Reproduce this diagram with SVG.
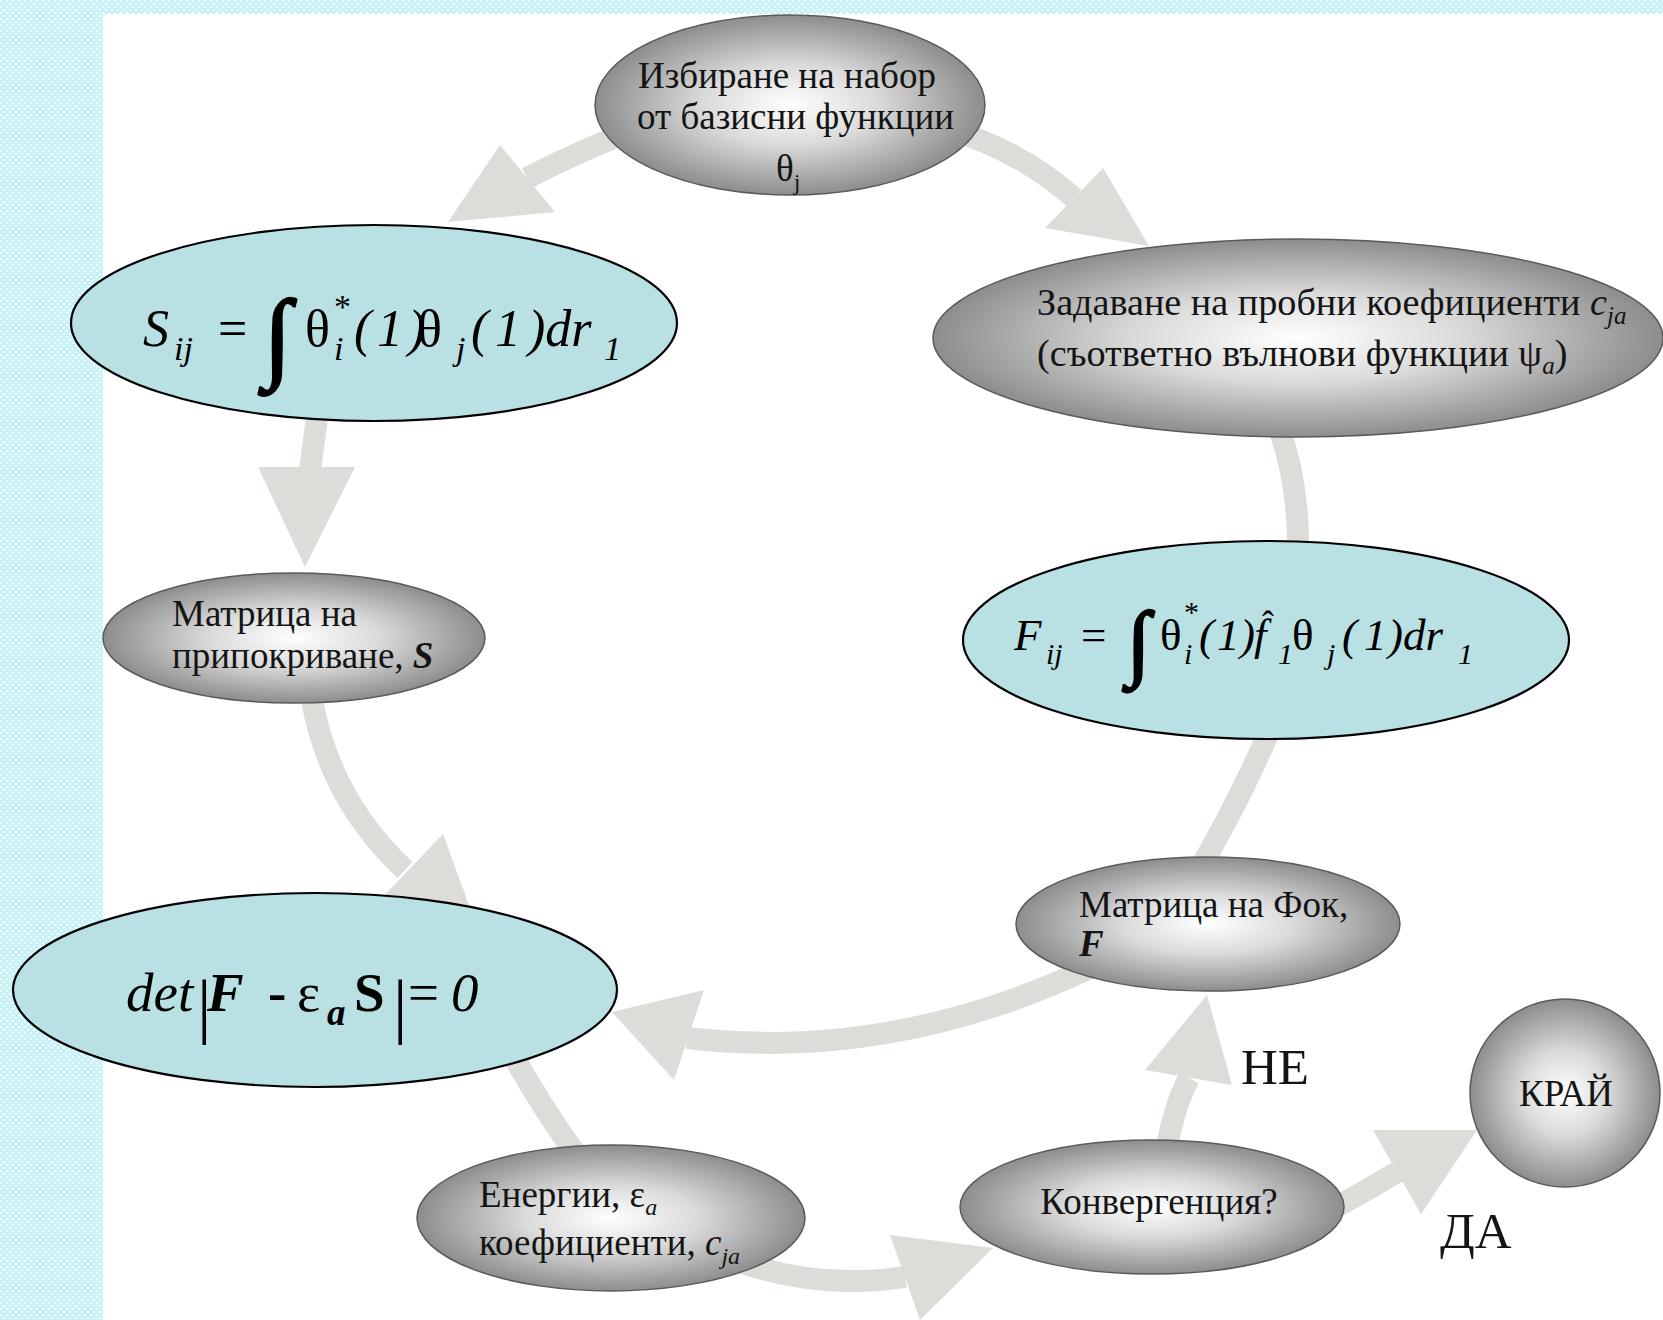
<svg xmlns="http://www.w3.org/2000/svg" width="1663" height="1320" viewBox="0 0 1663 1320">
<defs>
<pattern id="dots" width="6" height="6" patternUnits="userSpaceOnUse">
<rect width="6" height="6" fill="#c6f2f8"/>
<rect x="0" y="0" width="2" height="2" fill="#f4fdfe"/>
<rect x="3" y="3" width="2" height="2" fill="#f4fdfe"/>
</pattern>
<radialGradient id="gray" cx="0.5" cy="0.5" r="0.5">
<stop offset="0" stop-color="#ffffff"/>
<stop offset="0.45" stop-color="#dadada"/>
<stop offset="1" stop-color="#8d8d8d"/>
</radialGradient>
<style>
.t{font-family:"Liberation Serif","Times New Roman",serif;font-size:37px;fill:#141414}
.big{font-size:51px}
.s38{font-size:38.2px}
.i{font-style:italic}
.b{font-weight:bold}
.g{fill:url(#gray);stroke:#5a5a5a;stroke-width:1.5}
.c{fill:#b9e0e3;stroke:#000;stroke-width:2.2}
.sh{fill:none;stroke:#dcdcd9;stroke-width:22}
.hd{fill:#dcdcd9}
.f{font-family:"Liberation Serif","Times New Roman",serif;fill:#000}
.int{font-family:"Liberation Serif","Times New Roman",serif;fill:#000;stroke:#000;stroke-width:2.4}
</style>
</defs>
<rect width="1663" height="1320" fill="#fff"/>
<rect x="0" y="0" width="103" height="1320" fill="url(#dots)"/>
<rect x="0" y="0" width="1663" height="14" fill="url(#dots)"/>

<g id="connectors">
<path class="sh" d="M640,128 Q585,148 527,178"/>
<polygon class="hd" points="448,222 500,145 555,212"/>
<path class="sh" d="M945,128 Q1020,150 1074,198"/>
<polygon class="hd" points="1149,246 1045,228 1103,168"/>
<path class="sh" d="M1278,425 Q1300,485 1298,560"/>
<path class="sh" d="M1272,725 Q1240,800 1196,875"/>
<path class="sh" d="M1090,968 Q890,1062 687,1038"/>
<polygon class="hd" points="704,990 674,1080 612,1012"/>
<path class="sh" d="M510,1050 Q540,1105 580,1160"/>
<path class="sh" d="M740,1262 Q820,1290 905,1277"/>
<polygon class="hd" points="890,1235 920,1320 993,1248"/>
<path class="sh" d="M1165,1160 Q1172,1110 1189,1078"/>
<polygon class="hd" points="1207,995 1145,1070 1232,1085"/>
<path class="sh" d="M1320,1215 Q1360,1195 1397,1172"/>
<polygon class="hd" points="1373,1130 1421,1214 1477,1130"/>
<path class="sh" d="M318,410 L310,470"/>
<polygon class="hd" points="258,467 355,467 305,567"/>
<path class="sh" d="M312,700 Q330,800 405,870"/>
<polygon class="hd" points="443,834 375,905 479,933"/>
</g>

<g id="node-basis">
<ellipse class="g" cx="790" cy="105" rx="195" ry="90"/>
<text class="t" x="638" y="88">Избиране на набор</text>
<text class="t" x="637" y="129">от базисни функции</text>
<text class="t" x="776" y="181">θ<tspan font-size="24" dy="9">j</tspan></text>
</g>

<g id="node-sij">
<ellipse class="c" cx="374" cy="323" rx="303" ry="98"/>
<text class="f i" font-size="52" x="143" y="346">S</text>
<text class="f i" font-size="34" x="174" y="360">ij</text>
<text class="f" font-size="52" x="218" y="346">=</text>
<text class="int" font-size="100" x="264" y="369">∫</text>
<text class="f" font-size="52" x="305" y="346">θ</text>
<text class="f" font-size="34" x="334" y="318">*</text>
<text class="f i" font-size="34" x="334" y="360">i</text>
<text class="f i" font-size="52" y="346"><tspan x="354">(</tspan><tspan x="377">1</tspan><tspan x="408">)</tspan></text>
<text class="f" font-size="52" x="417" y="346">θ</text>
<text class="f i" font-size="34" x="456" y="360">j</text>
<text class="f i" font-size="52" y="346"><tspan x="471">(</tspan><tspan x="495">1</tspan><tspan x="528">)</tspan>dr</text>
<text class="f i" font-size="34" x="604" y="360">1</text>
</g>

<g id="node-trial">
<ellipse class="g" cx="1298" cy="338" rx="365" ry="99"/>
<text class="t s38" x="1037" y="315">Задаване на пробни коефициенти <tspan class="i">c</tspan><tspan class="i" font-size="25" dy="9">ja</tspan></text>
<text class="t s38" x="1037" y="366">(съответно вълнови функции ψ<tspan class="i" font-size="25" dy="8">a</tspan><tspan dy="-8">)</tspan></text>
</g>

<g id="node-fij">
<ellipse class="c" cx="1266" cy="640" rx="303" ry="99"/>
<text class="f i" font-size="45" x="1014" y="650">F</text>
<text class="f i" font-size="30" x="1046" y="664">ij</text>
<text class="f" font-size="45" x="1081" y="650">=</text>
<text class="int" font-size="84" x="1127" y="670">∫</text>
<text class="f" font-size="45" x="1160" y="650">θ</text>
<text class="f" font-size="30" x="1184" y="622">*</text>
<text class="f i" font-size="30" x="1184" y="664">i</text>
<text class="f i" font-size="45" y="650"><tspan x="1199">(</tspan><tspan x="1217">1</tspan><tspan x="1240">)</tspan><tspan x="1254">f</tspan></text>
<text class="f" font-size="36" x="1262" y="636">ˆ</text>
<text class="f i" font-size="30" x="1278" y="664">1</text>
<text class="f" font-size="45" x="1292" y="650">θ</text>
<text class="f i" font-size="30" x="1327" y="664">j</text>
<text class="f i" font-size="45" y="650"><tspan x="1342">(</tspan><tspan x="1364">1</tspan><tspan x="1388">)</tspan>dr</text>
<text class="f i" font-size="30" x="1458" y="664">1</text>
</g>

<g id="node-smatrix">
<ellipse class="g" cx="294" cy="638" rx="191" ry="65"/>
<text class="t" x="172" y="626">Матрица на</text>
<text class="t" x="172" y="668">припокриване, <tspan class="i b">S</tspan></text>
</g>

<g id="node-det">
<ellipse class="c" cx="315" cy="990" rx="302" ry="97"/>
<text class="f i" font-size="55" x="126" y="1011">det</text>
<text class="f" font-size="72" x="197" y="1030">|</text>
<text class="f i b" font-size="55" x="207" y="1011">F</text>
<text class="f b" font-size="55" x="268" y="1011">-</text>
<text class="f" font-size="55" x="297" y="1011">ε</text>
<text class="f i b" font-size="37" x="327" y="1025">a</text>
<text class="f b" font-size="55" x="354" y="1011">S</text>
<text class="f" font-size="72" x="393" y="1030">|</text>
<text class="f" font-size="55" x="408" y="1011">=</text>
<text class="f i" font-size="55" x="451" y="1011">0</text>
</g>

<g id="node-fock">
<ellipse class="g" cx="1208" cy="924" rx="192" ry="67"/>
<text class="t" x="1079" y="917">Матрица на Фок,</text>
<text class="t i b" x="1079" y="956">F</text>
</g>

<g id="node-energy">
<ellipse class="g" cx="611" cy="1218" rx="194" ry="73"/>
<text class="t" x="479" y="1207">Енергии, ε<tspan class="i" font-size="24" dy="8">a</tspan></text>
<text class="t" x="479" y="1255">коефициенти, <tspan class="i">c</tspan><tspan class="i" font-size="24" dy="9">ja</tspan></text>
</g>

<g id="node-conv">
<ellipse class="g" cx="1152" cy="1207" rx="192" ry="67"/>
<text class="t" x="1159" y="1214" text-anchor="middle">Конвергенция?</text>
</g>

<g id="node-end">
<ellipse class="g" cx="1565" cy="1093" rx="95" ry="94"/>
<text class="t" x="1566" y="1106" text-anchor="middle">КРАЙ</text>
</g>

<g id="labels">
<text class="t big" x="1241" y="1084">НЕ</text>
<text class="t big" x="1440" y="1248">ДА</text>
</g>
</svg>
